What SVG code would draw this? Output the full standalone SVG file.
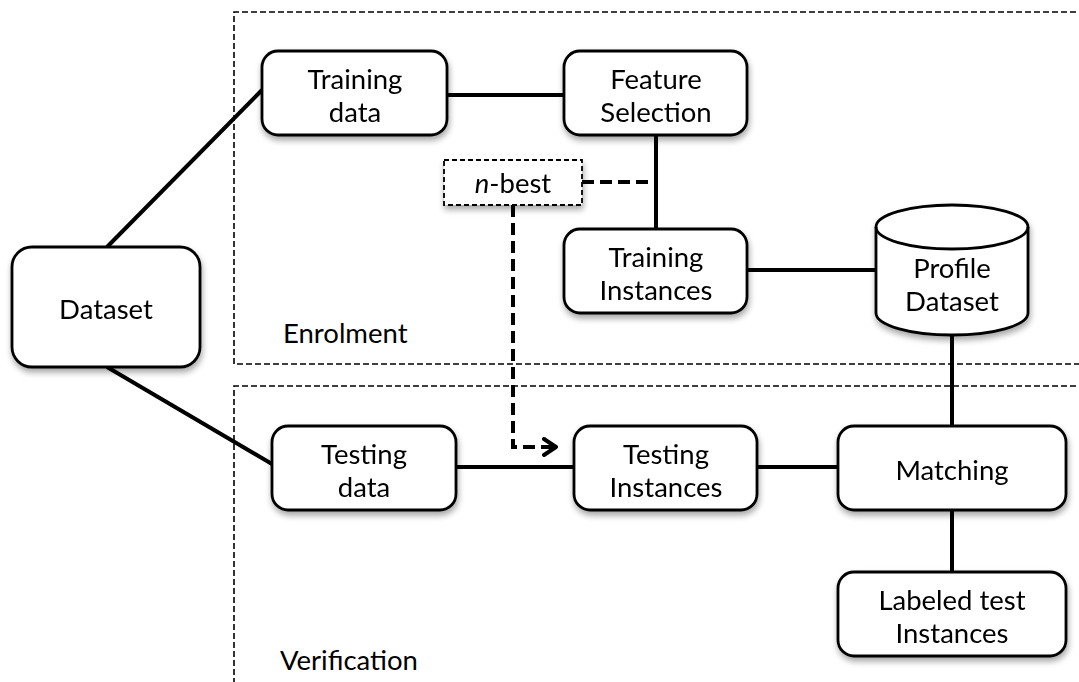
<svg xmlns="http://www.w3.org/2000/svg" width="1079" height="682" viewBox="0 0 1079 682">
  <defs>
    <filter id="shadow" x="-10%" y="-10%" width="130%" height="140%">
      <feGaussianBlur in="SourceAlpha" stdDeviation="3"/>
      <feOffset dx="1" dy="4" result="b"/>
      <feComponentTransfer><feFuncA type="linear" slope="0.35"/></feComponentTransfer>
      <feMerge><feMergeNode/><feMergeNode in="SourceGraphic"/></feMerge>
    </filter>
    <marker id="chev" viewBox="0 0 16 20" refX="14" refY="10" markerWidth="16" markerHeight="20" markerUnits="userSpaceOnUse" orient="auto">
      <path d="M2,2 L14,10 L2,18" fill="none" stroke="#000" stroke-width="4" stroke-linecap="round" stroke-linejoin="round"/>
    </marker>
  </defs>
  <style>
    .box { fill: #fff; stroke: #000; stroke-width: 2.8; }
    .region { fill: none; stroke: #000; stroke-width: 1.6; stroke-dasharray: 6 3; }
    .link { fill: none; stroke: #000; stroke-width: 4; }
    .dlink { fill: none; stroke: #000; stroke-width: 4; stroke-dasharray: 12 6; }
    .lbl { font-family: Lato, "Open Sans", "Liberation Sans", sans-serif; font-size: 27.5px; fill: #000; text-anchor: middle; }
    .area { font-family: Lato, "Open Sans", "Liberation Sans", sans-serif; font-size: 27.5px; fill: #000; }
  </style>
  <rect width="1079" height="682" fill="#fff"/>

  <!-- stage regions -->
  <g id="regions">
    <path class="region" d="M1085,12 H234 V364 H1085"/>
    <path class="region" d="M1085,386 H234 V690"/>
    <text class="area" x="283" y="343">Enrolment</text>
    <text class="area" x="280" y="670">Verification</text>
  </g>

  <!-- connectors -->
  <g id="connectors">
    <line class="link" x1="107" y1="247" x2="262" y2="90"/>
    <line class="link" x1="107" y1="367" x2="272" y2="464"/>
    <line class="link" x1="447" y1="95" x2="564" y2="95"/>
    <line class="link" x1="656" y1="135" x2="656" y2="229"/>
    <line class="dlink" x1="582" y1="182" x2="656" y2="182"/>
    <path class="dlink" d="M513,205 V447 H556" marker-end="url(#chev)"/>
    <line class="link" x1="747" y1="270" x2="876" y2="270"/>
    <line class="link" x1="952" y1="330" x2="952" y2="426"/>
    <line class="link" x1="456" y1="467" x2="574" y2="467"/>
    <line class="link" x1="757" y1="467" x2="838" y2="467"/>
    <line class="link" x1="952" y1="510" x2="952" y2="572"/>
  </g>

  <g id="dataset" filter="url(#shadow)">
    <rect class="box" x="12" y="247" width="188" height="120" rx="20"/>
    <text class="lbl" x="106" y="319">Dataset</text>
  </g>

  <g id="training-data" filter="url(#shadow)">
    <rect class="box" x="262" y="51" width="185" height="84" rx="16"/>
    <text class="lbl" x="355" y="89">Training</text>
    <text class="lbl" x="355" y="122">data</text>
  </g>

  <g id="feature-selection" filter="url(#shadow)">
    <rect class="box" x="564" y="51" width="183" height="84" rx="16"/>
    <text class="lbl" x="656" y="89">Feature</text>
    <text class="lbl" x="656" y="122">Selection</text>
  </g>

  <g id="n-best" filter="url(#shadow)">
    <rect x="444" y="160" width="138" height="45" fill="#fff" stroke="#000" stroke-width="1.8" stroke-dasharray="5 3"/>
    <text class="lbl" x="513" y="193"><tspan font-style="italic">n</tspan>-best</text>
  </g>

  <g id="training-instances" filter="url(#shadow)">
    <rect class="box" x="564" y="229" width="183" height="84" rx="16"/>
    <text class="lbl" x="656" y="267">Training</text>
    <text class="lbl" x="656" y="300">Instances</text>
  </g>

  <g id="profile-dataset" filter="url(#shadow)">
    <path class="box" d="M876,227 V313 A76,22 0 0 0 1028,313 V227 A76,22 0 0 0 876,227 Z"/>
    <path fill="none" stroke="#000" stroke-width="2.8" d="M876,227 A76,22 0 0 0 1028,227"/>
    <text class="lbl" x="952" y="278">Profile</text>
    <text class="lbl" x="952" y="311">Dataset</text>
  </g>

  <g id="testing-data" filter="url(#shadow)">
    <rect class="box" x="272" y="426" width="184" height="84" rx="16"/>
    <text class="lbl" x="364" y="464">Testing</text>
    <text class="lbl" x="364" y="497">data</text>
  </g>

  <g id="testing-instances" filter="url(#shadow)">
    <rect class="box" x="574" y="426" width="183" height="84" rx="16"/>
    <text class="lbl" x="666" y="464">Testing</text>
    <text class="lbl" x="666" y="497">Instances</text>
  </g>

  <g id="matching" filter="url(#shadow)">
    <rect class="box" x="838" y="426" width="228" height="84" rx="16"/>
    <text class="lbl" x="952" y="480">Matching</text>
  </g>

  <g id="labeled-test-instances" filter="url(#shadow)">
    <rect class="box" x="838" y="572" width="228" height="84" rx="16"/>
    <text class="lbl" x="952" y="610">Labeled test</text>
    <text class="lbl" x="952" y="643">Instances</text>
  </g>
</svg>
